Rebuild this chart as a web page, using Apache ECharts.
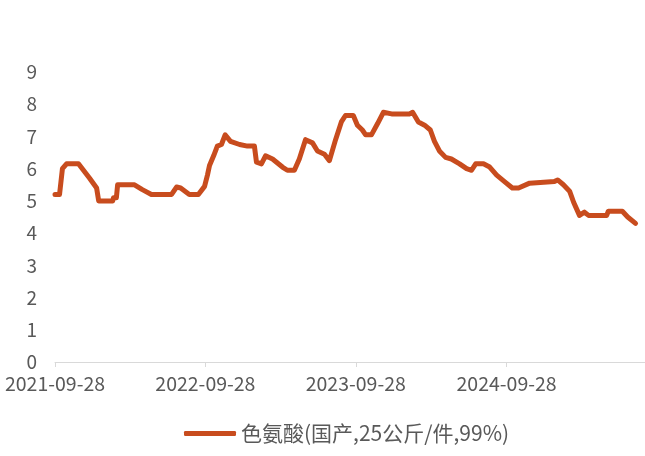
<!DOCTYPE html>
<html>
<head>
<meta charset="utf-8">
<script src="https://cdn.jsdelivr.net/npm/echarts@6/dist/echarts.min.js"></script>
<style>
html,body{margin:0;padding:0;background:#fff;}
#c{width:645px;height:456px;}
</style>
</head>
<body>
<div id="c"></div>
<script>
const seriesName = '色氨酸(国产,25公斤/件,99%)';
const dates = [
  '2021-09-28','2021-10-09','2021-10-16','2021-10-26','2021-11-24','2021-12-21','2022-01-07','2022-01-12',
  '2022-02-15','2022-02-17','2022-02-24','2022-02-27','2022-04-09','2022-04-28','2022-05-20','2022-07-08',
  '2022-07-20','2022-07-30','2022-08-20','2022-09-11','2022-09-26','2022-10-03','2022-10-08','2022-10-18',
  '2022-10-27','2022-11-06','2022-11-15','2022-11-28','2022-12-20','2023-01-08','2023-01-25','2023-01-30',
  '2023-02-11','2023-02-21','2023-03-10','2023-04-03','2023-04-15','2023-05-02','2023-05-14','2023-05-29',
  '2023-06-15','2023-06-27','2023-07-14','2023-07-26','2023-08-10','2023-08-24','2023-09-03','2023-09-22',
  '2023-10-02','2023-10-14','2023-10-22','2023-11-05','2023-11-20','2023-12-04','2023-12-24','2024-02-05',
  '2024-02-13','2024-02-27','2024-03-13','2024-03-27','2024-04-06','2024-04-18','2024-05-03','2024-05-17',
  '2024-06-06','2024-06-23','2024-07-05','2024-07-15','2024-08-03','2024-08-18','2024-09-04','2024-09-23',
  '2024-10-12','2024-10-27','2024-11-23','2024-11-25','2025-01-22','2025-01-30','2025-02-13','2025-02-28',
  '2025-03-10','2025-03-24','2025-04-05','2025-04-15','2025-05-29','2025-06-02','2025-07-06','2025-07-19',
  '2025-08-07'
];
const values = [
  5.2,5.2,6.0,6.15,6.15,5.7,5.4,5.0,
  5.0,5.1,5.1,5.5,5.5,5.35,5.2,5.2,
  5.43,5.4,5.2,5.2,5.45,5.8,6.1,6.4,
  6.7,6.75,7.05,6.85,6.75,6.7,6.7,6.2,
  6.15,6.4,6.3,6.05,5.95,5.95,6.3,6.9,
  6.8,6.55,6.45,6.25,6.9,7.45,7.65,7.65,
  7.35,7.2,7.05,7.05,7.4,7.75,7.7,7.7,
  7.75,7.45,7.35,7.2,6.85,6.55,6.35,6.3,
  6.15,6.0,5.95,6.15,6.15,6.05,5.8,5.6,
  5.4,5.4,5.55,5.6,5.6,5.65,5.5,5.3,
  4.95,4.55,4.65,4.55,4.55,4.68,4.68,4.5,
  4.3
];
const tickDates = ['2021-09-28','2022-09-28','2023-09-28','2024-09-28'];
const yMin = 0, yMax = 9, yStep = 1;

const ts = s => { const p = s.split('-'); return Date.UTC(+p[0], +p[1]-1, +p[2]); };
const pad = n => (n < 10 ? '0' : '') + n;
const fmt = v => { const d = new Date(v); return d.getUTCFullYear() + '-' + pad(d.getUTCMonth()+1) + '-' + pad(d.getUTCDate()); };

const chart = echarts.init(document.getElementById('c'), null, {renderer:'canvas'});
chart.setOption({
  animation: false,
  backgroundColor: '#fff',
  grid: {left: 55, right: 0, top: 72, bottom: 94, containLabel: false},
  legend: {
    bottom: 7,
    left: 179,
    icon: 'roundRect',
    itemWidth: 52,
    itemHeight: 5,
    itemGap: 6,
    textStyle: {color: '#595959', fontSize: 21, fontFamily: 'Noto Sans CJK SC'},
    data: [seriesName]
  },
  xAxis: {
    type: 'value',
    min: ts('2021-09-28'),
    max: ts('2025-08-30'),
    axisLine: {show: true, lineStyle: {color: '#d9d9d9', width: 1}},
    axisTick: {show: true, length: 5, lineStyle: {color: '#d9d9d9'}, customValues: tickDates.map(ts)},
    splitLine: {show: false},
    axisLabel: {
      customValues: tickDates.map(ts),
      formatter: v => fmt(v),
      color: '#595959', fontSize: 19.5, fontFamily: 'Noto Sans CJK SC', margin: 12,
      hideOverlap: false
    }
  },
  yAxis: {
    type: 'value',
    min: yMin, max: yMax, interval: yStep,
    axisLine: {show: false},
    axisTick: {show: false},
    splitLine: {show: false},
    axisLabel: {color: '#595959', fontSize: 19, fontFamily: 'Noto Sans CJK SC', margin: 18}
  },
  series: [{
    name: seriesName,
    type: 'line',
    showSymbol: false,
    symbol: 'none',
    color: '#C84C1E',
    lineStyle: {width: 5, color: '#C84C1E', cap: 'round', join: 'round'},
    data: dates.map((d, i) => [ts(d), values[i]])
  }]
});
</script>
</body>
</html>
